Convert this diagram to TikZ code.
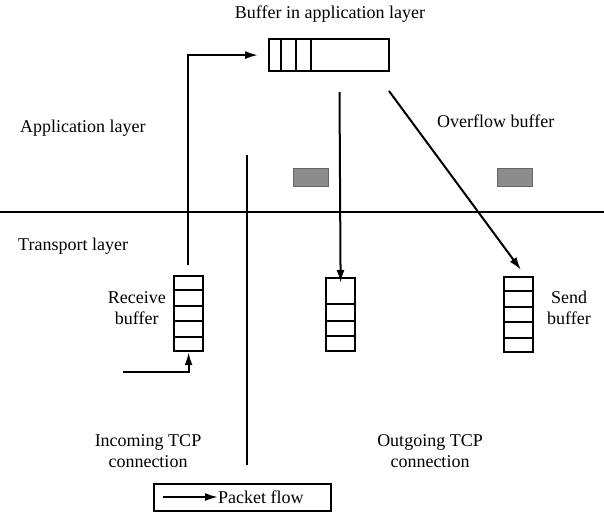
\documentclass[tikz,border=0pt]{standalone}
\usepackage{fontspec}
\setmainfont{Liberation Serif}
\usetikzlibrary{arrows.meta,calc}
\begin{document}
\begin{tikzpicture}[x=1pt,y=-1pt,
  lbl/.style={font=\fontsize{18}{21}\selectfont, inner sep=0pt, align=center},
  buf/.style={draw, line width=2.2pt, minimum width=29pt, inner sep=0pt},
  cell/.style={line width=2pt},
  arr/.style={line width=2pt, -{Latex[length=13pt,width=8pt]}},
  sepline/.style={line width=2pt},
  gbox/.style={fill=black!45, draw=black!60, line width=1pt, minimum width=35pt, minimum height=18pt, inner sep=0pt}]
\useasboundingbox (0,0) rectangle (604,517);

% separators
\coordinate (h1) at (0,212);
\coordinate (h2) at (604,212);
\draw[sepline] (h1) -- (h2);
\coordinate (s1) at (247,155);
\coordinate (s2) at (247,465);
\draw[sepline] (s1) -- (s2);

% application buffer
\node[lbl, anchor=center] (title) at (330,14) {Buffer in application layer};
\node[buf, minimum width=120pt, minimum height=32pt, anchor=north west] (ab) at (268,38) {};
\foreach \x in {13,28,43}
  \draw[cell] ([xshift=\x pt]ab.north west) -- ([xshift=\x pt]ab.south west);

% receive buffer
\node[buf, minimum height=75pt, anchor=north west] (rb) at (173,275) {};
\foreach \f in {0.2,0.4,0.6,0.8}
  \draw[cell] ($(rb.north west)!\f!(rb.south west)$) -- ($(rb.north east)!\f!(rb.south east)$);

% middle (outgoing) buffer
\node[buf, minimum height=73pt, anchor=north west] (mb) at (325,277) {};
\foreach \f in {0.356,0.59,0.79}
  \draw[cell] ($(mb.north west)!\f!(mb.south west)$) -- ($(mb.north east)!\f!(mb.south east)$);

% send buffer
\node[buf, minimum height=75pt, anchor=north west] (sb) at (503,276) {};
\foreach \f in {0.2,0.4,0.6,0.8}
  \draw[cell] ($(sb.north west)!\f!(sb.south west)$) -- ($(sb.north east)!\f!(sb.south east)$);

% overflow (gray) boxes
\node[gbox, anchor=north west] (g1) at (293,168) {};
\node[gbox, anchor=north west] (g2) at (497,168) {};

% arrows
\coordinate (rbup) at (187.5,265);
\draw[arr] (rbup) |- ([xshift=-10pt]ab.west);
\coordinate (inc) at (123,372);
\draw[arr] (inc) -| (rb.south);
\coordinate (mstart) at (339.5,92);
\draw[arr] (mstart) -- ([yshift=-6pt]mb.north);
\coordinate (dstart) at (389,91);
\coordinate (dend) at (521,270);
\draw[arr] (dstart) -- (dend);

% labels
\node[lbl, anchor=west] (al) at (20,128) {Application layer};
\node[lbl, anchor=west] (ol) at (437,121) {Overflow buffer};
\node[lbl, anchor=west] (tl) at (18,246) {Transport layer};
\node[lbl, anchor=east, align=center] (rl) at (166,308) {Receive\\buffer};
\node[lbl, anchor=west, align=center] (sl) at (547,308) {Send\\buffer};
\node[lbl] (il) at (148,451) {Incoming TCP\\connection};
\node[lbl] (ogl) at (430,451) {Outgoing TCP\\connection};

% legend
\node[draw, line width=2pt, minimum width=177pt, minimum height=27pt, inner sep=0pt, anchor=north west] (pf) at (153,483) {};
\node[lbl, anchor=west] (pft) at (218,497) {Packet flow};
\coordinate (pfa) at (163,497);
\draw[arr] (pfa) -- (pft.west);
\end{tikzpicture}
\end{document}
